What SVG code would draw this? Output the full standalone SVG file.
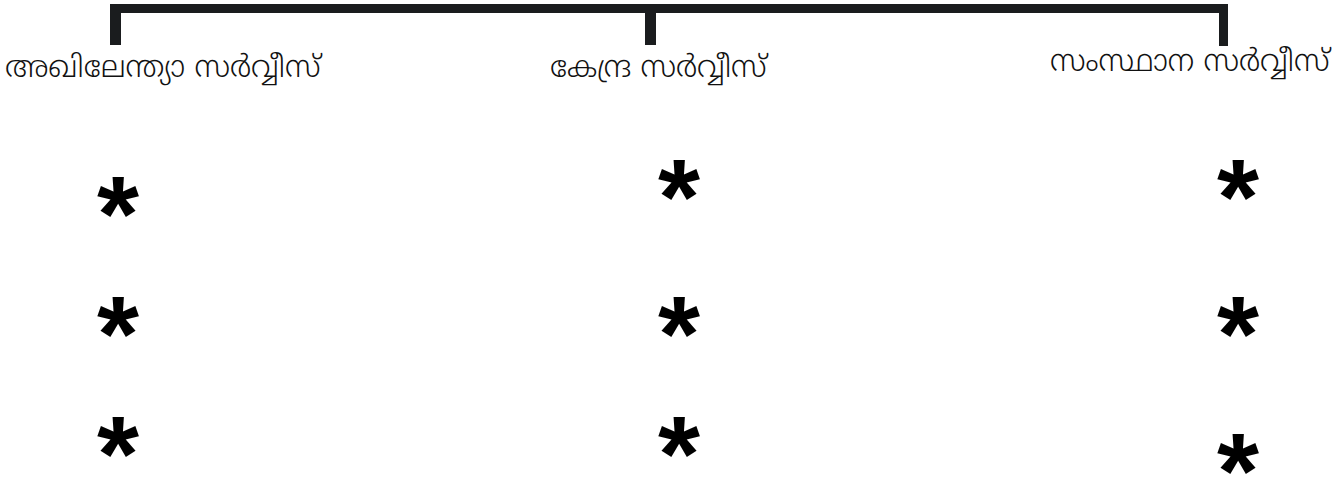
<svg xmlns="http://www.w3.org/2000/svg" width="1344" height="479" viewBox="0 0 1344 479">
<style>
.lbl{font-family:"Noto Sans Malayalam","Noto Sans","Liberation Sans",sans-serif;font-size:30px;font-weight:300;fill:#111}
.ast{font-family:"Liberation Sans",sans-serif;font-weight:bold;font-size:108px;fill:#000;text-anchor:middle}
.br{fill:#1a1c1e}
</style>
<rect width="1344" height="479" fill="#fff"/>
<g id="connectors">
<rect class="br" x="110" y="4" width="1118" height="9"/>
<rect class="br" x="110" y="4" width="11" height="41"/>
<rect class="br" x="645" y="4" width="11" height="41"/>
<rect class="br" x="1219" y="4" width="9" height="42"/>
</g>
<g id="n1"><text class="lbl" x="5" y="77">അഖിലേന്ത്യാ സർവ്വീസ്</text></g>
<g id="n2"><text class="lbl" x="550" y="77">കേന്ദ്ര സർവ്വീസ്</text></g>
<g id="n3"><text class="lbl" x="1050" y="71">സംസ്ഥാന സർവ്വീസ്</text></g>
<g id="stars">
<text class="ast" x="118" y="251">*</text>
<text class="ast" x="118" y="371">*</text>
<text class="ast" x="118" y="491">*</text>
<text class="ast" x="679" y="234">*</text>
<text class="ast" x="679" y="371">*</text>
<text class="ast" x="679" y="491">*</text>
<text class="ast" x="1238" y="234">*</text>
<text class="ast" x="1238" y="371">*</text>
<text class="ast" x="1238" y="508">*</text>
</g>
</svg>
